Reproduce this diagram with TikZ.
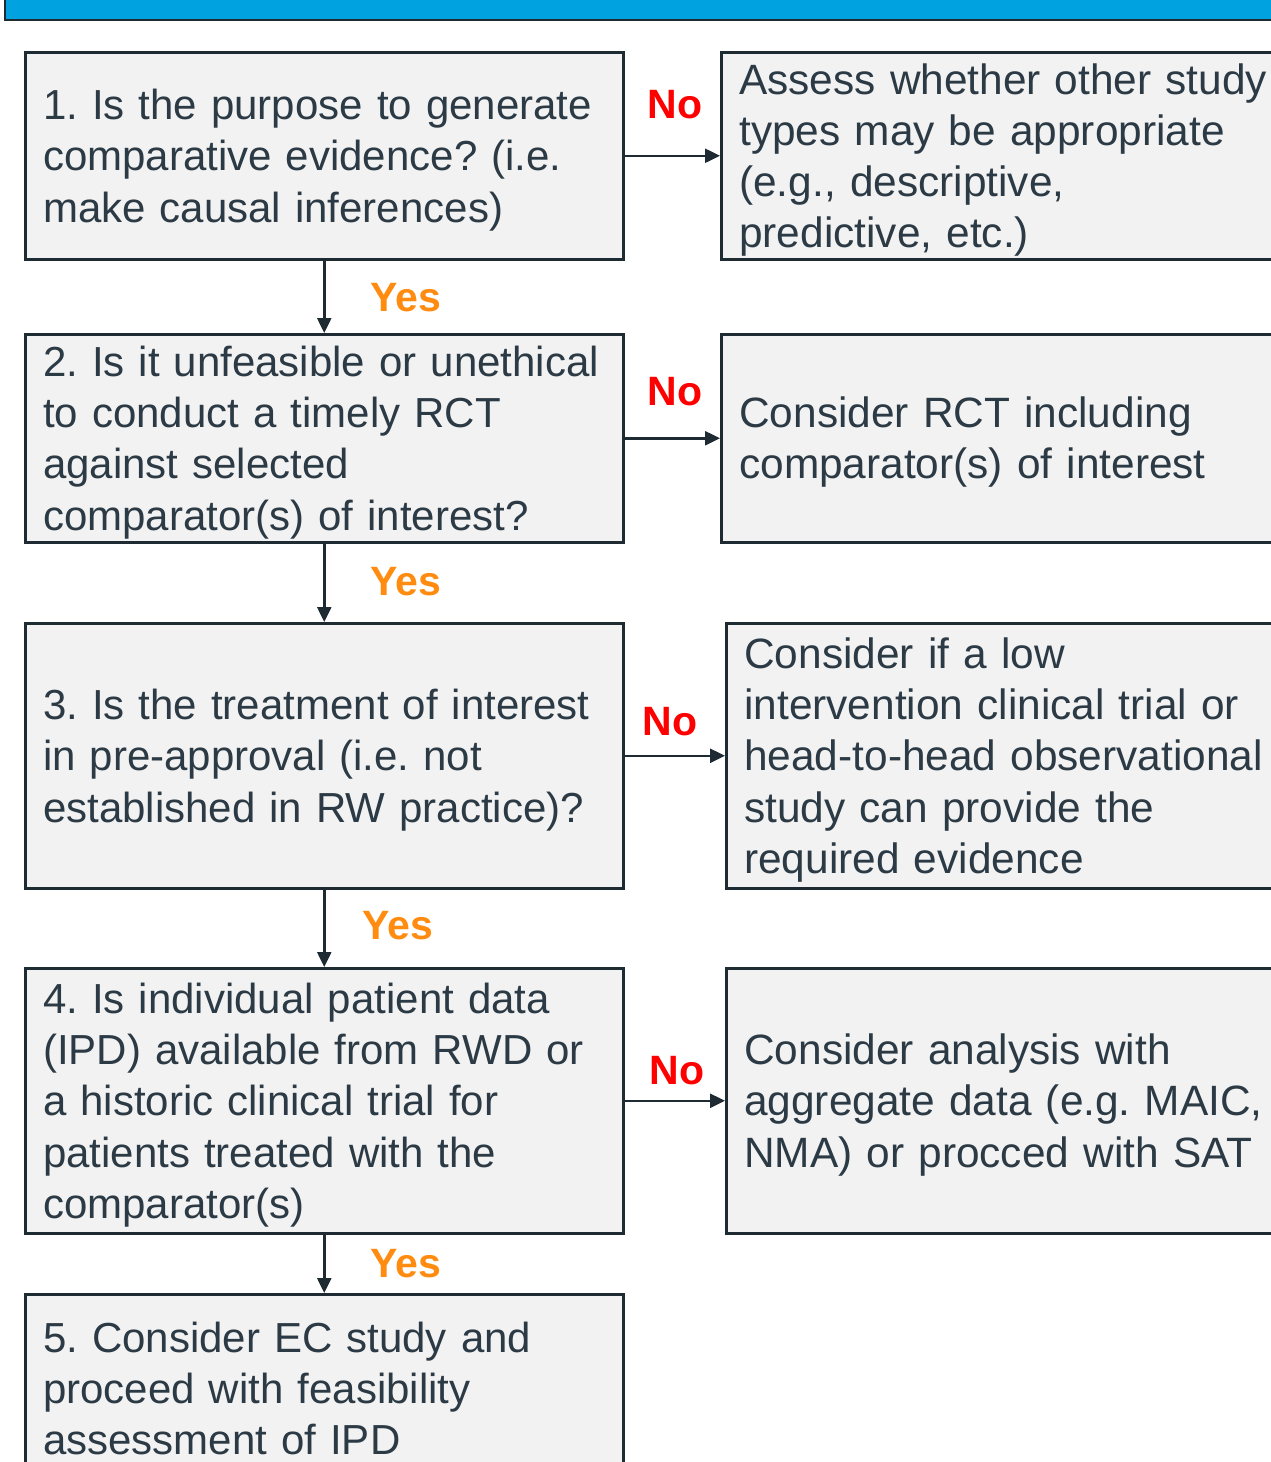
\documentclass[tikz,border=0pt]{standalone}
\usepackage{fontspec}
\setmainfont{Liberation Sans}
\usetikzlibrary{arrows.meta}
\definecolor{barblue}{HTML}{00A3E0}
\definecolor{edge}{HTML}{1E2B33}
\definecolor{boxfill}{HTML}{F2F2F2}
\definecolor{txt}{HTML}{2B3A44}
\definecolor{nored}{HTML}{FF0000}
\definecolor{yesorange}{HTML}{FF8C10}
\frenchspacing
\hyphenpenalty=10000
\exhyphenpenalty=10000
\newcommand{\topstrut}{\rule{0pt}{39pt}}
\begin{document}
\begin{tikzpicture}[x=1pt,y=-1pt,
  basebox/.style={draw=edge, line width=2.5pt, fill=boxfill, rectangle, anchor=north west,
    inner xsep=18pt, inner ysep=0pt, align=left, text=txt},
  lbox/.style={basebox, text width=562pt, minimum width=598pt,
    font=\fontsize{42}{51.2}\selectfont},
  rbox/.style={basebox, text width=700pt, minimum width=736pt,
    font=\fontsize{42.4}{51.2}\selectfont},
  arr/.style={draw=edge, line width=2.5pt, -{Triangle[length=15pt,width=14pt]}},
  nolab/.style={text=nored, font=\fontsize{41}{41}\bfseries\selectfont, inner sep=0pt},
  yeslab/.style={text=yesorange, font=\fontsize{41}{41}\bfseries\selectfont, inner sep=0pt}]
\useasboundingbox (0,0) rectangle (1270,1462);
% top bar
\fill[barblue] (5,-10) rectangle (1290,20);
\draw[edge, line width=2.5pt] (5,-10) -- (5,20) -- (1290,20);
% left column
\node[lbox, minimum height=207pt] (q1) at (24,51) {\topstrut1. Is the purpose to generate\\comparative evidence? (i.e.\\make causal inferences)};
\node[lbox, minimum height=208pt] (q2) at (24,333) {\topstrut2. Is it unfeasible or unethical\\to conduct a timely RCT\\against selected\\comparator(s) of interest?};
\node[lbox, minimum height=265pt] (q3) at (24,622) {\topstrut3. Is the treatment of interest\\in pre-approval (i.e. not\\established in RW practice)?};
\node[lbox, minimum height=265pt] (q4) at (24,967) {\topstrut4. Is individual patient data\\(IPD) available from RWD or\\a historic clinical trial for\\patients treated with the\\comparator(s)};
\node[lbox, minimum height=180pt] (q5) at (24,1293) {\topstrut5. Consider EC study and\\proceed with feasibility\\assessment of IPD};
% right column
\node[rbox, minimum height=207pt] (r1) at (720,51) {\topstrut Assess whether other study\\types may be appropriate\\(e.g., descriptive,\\predictive, etc.)};
\node[rbox, minimum height=208pt] (r2) at (720,333) {\topstrut Consider RCT including\\comparator(s) of interest};
\node[rbox, minimum height=265pt] (r3) at (725,622) {\topstrut Consider if a low\\intervention clinical trial or\\head-to-head observational\\study can provide the\\required evidence};
\node[rbox, minimum height=265pt] (r4) at (725,967) {\topstrut Consider analysis with\\aggregate data (e.g. MAIC,\\NMA) or procced with SAT};
% connectors
\draw[arr] (q1.south) -- (q2.north);
\draw[arr] (q2.south) -- (q3.north);
\draw[arr] (q3.south) -- (q4.north);
\draw[arr] (q4.south) -- (q5.north);
\draw[arr] (q1.east) -- (q1.east -| r1.west);
\draw[arr] (q2.east) -- (q2.east -| r2.west);
\draw[arr] (q3.east) -- (q3.east -| r3.west);
\draw[arr] (q4.east) -- (q4.east -| r4.west);
% labels
\node[nolab] (n1) at (675,105) {No};
\node[nolab] (n2) at (675,392) {No};
\node[nolab] (n3) at (670,722) {No};
\node[nolab] (n4) at (677,1071) {No};
\node[yeslab] (y1) at (406,298) {Yes};
\node[yeslab] (y2) at (406,582) {Yes};
\node[yeslab] (y3) at (398,926) {Yes};
\node[yeslab] (y4) at (406,1264) {Yes};
\end{tikzpicture}
\end{document}
